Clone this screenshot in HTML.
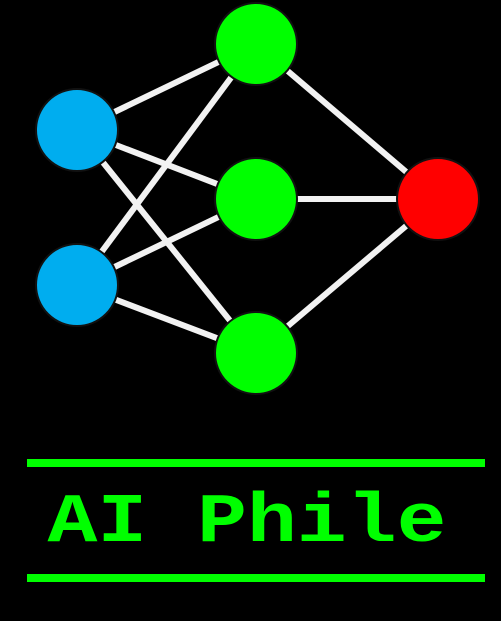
<!DOCTYPE html>
<html><head><style>
html,body{margin:0;padding:0;background:#000;}
</style></head><body>
<svg width="501" height="621" viewBox="0 0 501 621" xmlns="http://www.w3.org/2000/svg" style="display:block">
<rect width="501" height="621" fill="#000"/>
<g stroke="#f2f2f2" stroke-width="6">
<line x1="77" y1="130" x2="256" y2="44"/>
<line x1="77" y1="130" x2="256" y2="199"/>
<line x1="77" y1="130" x2="256" y2="353"/>
<line x1="77" y1="285" x2="256" y2="44"/>
<line x1="77" y1="285" x2="256" y2="199"/>
<line x1="77" y1="285" x2="256" y2="353"/>
<line x1="256" y1="44" x2="438" y2="199"/>
<line x1="256" y1="199" x2="438" y2="199"/>
<line x1="256" y1="353" x2="438" y2="199"/>
</g>
<g stroke="#111" stroke-width="2">
<circle cx="77" cy="130" r="41" fill="#00adef"/>
<circle cx="77" cy="285" r="41" fill="#00adef"/>
<circle cx="256" cy="44" r="41" fill="#00ff00"/>
<circle cx="256" cy="199" r="41" fill="#00ff00"/>
<circle cx="256" cy="353" r="41" fill="#00ff00"/>
<circle cx="438" cy="199" r="41" fill="#ff0000"/>
</g>
<rect x="27" y="459" width="458" height="8" fill="#00ff00"/>
<rect x="27" y="574" width="458" height="8" fill="#00ff00"/>
<text x="247" y="541" text-anchor="middle" font-family="Liberation Mono, monospace" font-weight="bold" font-size="70" fill="#00ff00" textLength="399" lengthAdjust="spacingAndGlyphs">AI Phile</text>
</svg>
</body></html>
